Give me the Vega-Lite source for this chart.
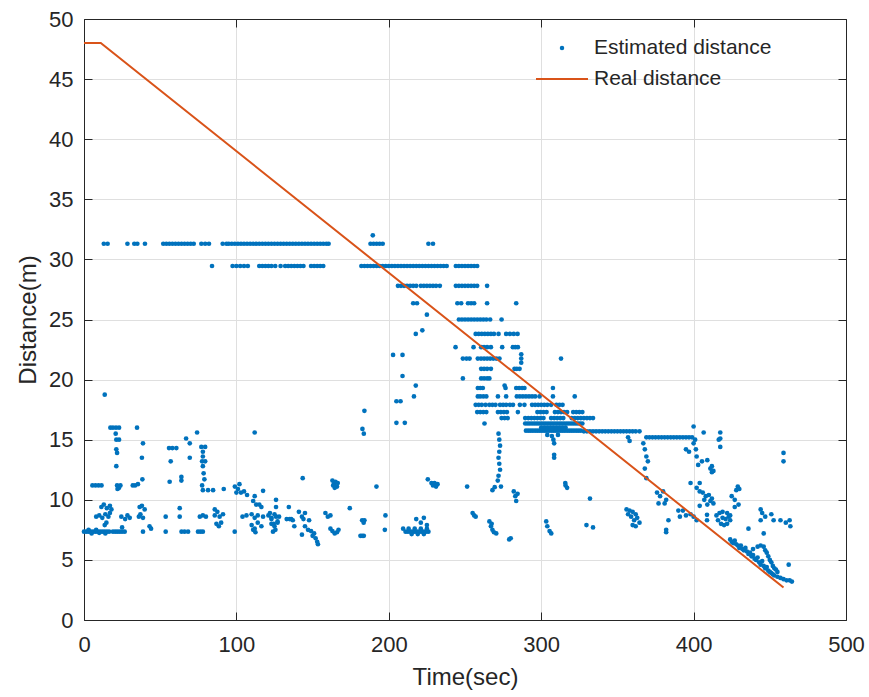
{
"$schema":"https://vega.github.io/schema/vega-lite/v6.json",
"width":762,"height":601,
"autosize":{"type":"none"},
"padding":{"left":84,"top":19,"right":23,"bottom":77},
"background":"white",
"config":{
 "view":{"stroke":null},
 "font":"Liberation Sans",
 "axis":{"domainColor":"#262626","domainWidth":1,"tickColor":"#262626","tickSize":-8,"tickWidth":1,"gridColor":"#dfdfdf","gridWidth":1,"labelColor":"#262626","labelFont":"Liberation Sans","labelFontSize":22,"titleColor":"#262626","titleFont":"Liberation Sans","titleFontSize":24,"titleFontWeight":"normal","labelFlush":false,"labelOverlap":false}
},
"datasets":{
"real":[{"t":0,"d":48},{"t":11,"d":48},{"t":459,"d":2.7}],
"est":[
{"t":13,"d":31.3},{"t":15.5,"d":31.3},{"t":28.5,"d":31.3},{"t":33,"d":31.3},{"t":35,"d":31.3},{"t":40,"d":31.3},{"t":52,"d":31.3},{"t":54,"d":31.3},{"t":56,"d":31.3},{"t":58,"d":31.3},{"t":60,"d":31.3},{"t":62,"d":31.3},{"t":64,"d":31.3},{"t":66,"d":31.3},{"t":68,"d":31.3},{"t":70,"d":31.3},{"t":72,"d":31.3},{"t":77,"d":31.3},{"t":79.5,"d":31.3},{"t":82,"d":31.3},{"t":91,"d":31.3},{"t":93.5,"d":31.3},{"t":95,"d":31.3},{"t":97,"d":31.3},{"t":99,"d":31.3},{"t":101,"d":31.3},{"t":103,"d":31.3},{"t":105,"d":31.3},{"t":107,"d":31.3},{"t":109,"d":31.3},{"t":111,"d":31.3},{"t":113,"d":31.3},{"t":115,"d":31.3},{"t":117,"d":31.3},{"t":119,"d":31.3},{"t":121,"d":31.3},{"t":123,"d":31.3},{"t":125,"d":31.3},{"t":127,"d":31.3},{"t":129,"d":31.3},{"t":131,"d":31.3},{"t":133,"d":31.3},{"t":135,"d":31.3},{"t":137,"d":31.3},{"t":139,"d":31.3},{"t":141,"d":31.3},{"t":143,"d":31.3},{"t":145,"d":31.3},{"t":147,"d":31.3},{"t":149,"d":31.3},{"t":151,"d":31.3},{"t":153,"d":31.3},{"t":155,"d":31.3},{"t":157,"d":31.3},{"t":159,"d":31.3},{"t":160.5,"d":31.3},{"t":188,"d":31.3},{"t":190,"d":31.3},{"t":192,"d":31.3},{"t":194,"d":31.3},{"t":196,"d":31.3},{"t":226,"d":31.3},{"t":229,"d":31.3},{"t":189.5,"d":32.0},
{"t":84,"d":29.45},{"t":97.5,"d":29.45},{"t":100,"d":29.45},{"t":102.5,"d":29.45},{"t":105,"d":29.45},{"t":107.5,"d":29.45},{"t":115,"d":29.45},{"t":117,"d":29.45},{"t":119,"d":29.45},{"t":121,"d":29.45},{"t":123,"d":29.45},{"t":125.5,"d":29.45},{"t":129,"d":29.45},{"t":132,"d":29.45},{"t":134,"d":29.45},{"t":136,"d":29.45},{"t":138,"d":29.45},{"t":140,"d":29.45},{"t":142,"d":29.45},{"t":144,"d":29.45},{"t":149,"d":29.45},{"t":151,"d":29.45},{"t":153,"d":29.45},{"t":155,"d":29.45},{"t":157,"d":29.45},{"t":182,"d":29.45},{"t":184,"d":29.45},{"t":186,"d":29.45},{"t":188,"d":29.45},{"t":190,"d":29.45},{"t":192,"d":29.45},{"t":194,"d":29.45},{"t":196,"d":29.45},{"t":198,"d":29.45},{"t":200,"d":29.45},{"t":202,"d":29.45},{"t":204,"d":29.45},{"t":206,"d":29.45},{"t":208,"d":29.45},{"t":210,"d":29.45},{"t":212,"d":29.45},{"t":214,"d":29.45},{"t":216,"d":29.45},{"t":218,"d":29.45},{"t":220,"d":29.45},{"t":222,"d":29.45},{"t":224,"d":29.45},{"t":226,"d":29.45},{"t":228,"d":29.45},{"t":230,"d":29.45},{"t":232,"d":29.45},{"t":234,"d":29.45},{"t":236,"d":29.45},{"t":238,"d":29.45},{"t":244,"d":29.45},{"t":246,"d":29.45},{"t":248,"d":29.45},{"t":250,"d":29.45},{"t":252,"d":29.45},{"t":254,"d":29.45},{"t":256,"d":29.45},{"t":258,"d":29.45},
{"t":206,"d":27.8},{"t":208,"d":27.8},{"t":210,"d":27.8},{"t":212,"d":27.8},{"t":214,"d":27.8},{"t":216,"d":27.8},{"t":218,"d":27.8},{"t":221,"d":27.8},{"t":223,"d":27.8},{"t":225,"d":27.8},{"t":227,"d":27.8},{"t":229,"d":27.8},{"t":231,"d":27.8},{"t":233.5,"d":27.8},{"t":244,"d":27.8},{"t":246,"d":27.8},{"t":248,"d":27.8},{"t":250,"d":27.8},{"t":252,"d":27.8},{"t":254,"d":27.8},{"t":256,"d":27.8},{"t":258,"d":27.8},{"t":264.5,"d":27.8},
{"t":216,"d":26.35},{"t":218.5,"d":26.35},{"t":245,"d":26.35},{"t":247.5,"d":26.35},{"t":252,"d":26.35},{"t":254,"d":26.35},{"t":256,"d":26.35},{"t":264.5,"d":26.35},{"t":283.6,"d":26.35},{"t":225,"d":25.4},
{"t":246,"d":25.0},{"t":248,"d":25.0},{"t":250,"d":25.0},{"t":252,"d":25.0},{"t":254,"d":25.0},{"t":256,"d":25.0},{"t":258,"d":25.0},{"t":260,"d":25.0},{"t":262,"d":25.0},{"t":264,"d":25.0},{"t":266.5,"d":25.0},{"t":274,"d":25.0},
{"t":217.7,"d":23.8},{"t":222,"d":24.1},
{"t":257,"d":23.8},{"t":259,"d":23.8},{"t":261,"d":23.8},{"t":263,"d":23.8},{"t":265,"d":23.8},{"t":267,"d":23.8},{"t":269,"d":23.8},{"t":272,"d":23.8},{"t":277,"d":23.8},{"t":279.5,"d":23.8},{"t":282,"d":23.8},{"t":284.5,"d":23.8},
{"t":243.8,"d":22.7},{"t":255.6,"d":22.7},{"t":260.6,"d":22.7},{"t":262.5,"d":22.7},{"t":264.5,"d":22.7},{"t":267,"d":22.7},{"t":274.4,"d":22.7},{"t":281.4,"d":22.7},{"t":283,"d":22.7},{"t":284.7,"d":22.7},
{"t":202.8,"d":22.05},{"t":209,"d":22.05},
{"t":248.6,"d":21.75},{"t":251,"d":21.75},{"t":253,"d":21.75},{"t":258.4,"d":21.75},{"t":260.5,"d":21.75},{"t":262.5,"d":21.75},{"t":264.5,"d":21.75},{"t":266.5,"d":21.75},{"t":268.5,"d":21.75},{"t":270.5,"d":21.75},{"t":272.6,"d":21.75},{"t":286.9,"d":21.75},{"t":313,"d":21.75},{"t":286.9,"d":22.1},{"t":286.9,"d":21.4},
{"t":260.6,"d":20.9},{"t":262.5,"d":20.9},{"t":264.5,"d":20.9},{"t":267,"d":20.9},{"t":282.5,"d":20.9},{"t":284,"d":20.9},{"t":285.8,"d":20.9},
{"t":209,"d":20.3},
{"t":248.6,"d":20.1},{"t":260.6,"d":20.1},{"t":262.5,"d":20.1},{"t":264.5,"d":20.1},{"t":266,"d":20.1},
{"t":217.7,"d":19.5},{"t":276,"d":19.5},
{"t":258.4,"d":19.3},{"t":260,"d":19.3},{"t":261.7,"d":19.3},{"t":276.6,"d":19.3},{"t":283.6,"d":19.3},{"t":285.5,"d":19.3},{"t":287.5,"d":19.3},{"t":289,"d":19.3},{"t":307.7,"d":19.3},
{"t":216.5,"d":18.6},{"t":258.4,"d":18.6},{"t":260,"d":18.6},{"t":262,"d":18.6},{"t":264,"d":18.6},{"t":271.6,"d":18.6},{"t":277,"d":18.6},{"t":284,"d":18.6},{"t":286,"d":18.6},{"t":288,"d":18.6},{"t":290,"d":18.6},{"t":292,"d":18.6},{"t":294,"d":18.6},{"t":296,"d":18.6},{"t":298.9,"d":18.6},{"t":307.7,"d":18.6},{"t":322,"d":18.6},
{"t":205,"d":18.2},{"t":207.7,"d":18.2},
{"t":257,"d":17.9},{"t":259,"d":17.9},{"t":261,"d":17.9},{"t":263.5,"d":17.9},{"t":266,"d":17.9},{"t":268,"d":17.9},{"t":270,"d":17.9},{"t":273,"d":17.9},{"t":275,"d":17.9},{"t":277,"d":17.9},{"t":279.5,"d":17.9},{"t":281.5,"d":17.9},{"t":286,"d":17.9},{"t":289,"d":17.9},{"t":294,"d":17.9},{"t":296,"d":17.9},{"t":298,"d":17.9},{"t":300,"d":17.9},{"t":302,"d":17.9},{"t":304,"d":17.9},{"t":306.5,"d":17.9},{"t":310,"d":17.9},{"t":312,"d":17.9},{"t":314,"d":17.9},
{"t":184,"d":17.4},
{"t":258,"d":17.3},{"t":260,"d":17.3},{"t":262,"d":17.3},{"t":264,"d":17.3},{"t":271.6,"d":17.3},{"t":273.5,"d":17.3},{"t":275.5,"d":17.3},{"t":277.5,"d":17.3},{"t":284.7,"d":17.3},{"t":297.5,"d":17.3},{"t":299.5,"d":17.3},{"t":301.5,"d":17.3},{"t":303.5,"d":17.3},{"t":309,"d":17.3},{"t":311,"d":17.3},{"t":313,"d":17.3},{"t":315,"d":17.3},{"t":317,"d":17.3},{"t":321,"d":17.3},{"t":323,"d":17.3},{"t":325,"d":17.3},{"t":327,"d":17.3},
{"t":274,"d":16.8},{"t":276,"d":16.8},{"t":278,"d":16.8},{"t":289.5,"d":16.8},{"t":291.5,"d":16.8},{"t":293.5,"d":16.8},{"t":295.5,"d":16.8},{"t":297.5,"d":16.8},{"t":299.5,"d":16.8},{"t":301.5,"d":16.8},{"t":306.5,"d":16.8},{"t":308.5,"d":16.8},{"t":310.5,"d":16.8},{"t":312.5,"d":16.8},{"t":314.5,"d":16.8},{"t":320,"d":16.8},{"t":322,"d":16.8},{"t":324,"d":16.8},{"t":326,"d":16.8},{"t":328,"d":16.8},{"t":330,"d":16.8},{"t":332,"d":16.8},{"t":334,"d":16.8},
{"t":262.8,"d":16.35},{"t":289.5,"d":16.35},{"t":291,"d":16.35},{"t":292.5,"d":16.35},{"t":294,"d":16.35},{"t":295.5,"d":16.35},{"t":297,"d":16.35},{"t":298.5,"d":16.35},{"t":300,"d":16.35},{"t":301.5,"d":16.35},{"t":303,"d":16.35},{"t":304.5,"d":16.35},{"t":306,"d":16.35},{"t":307.5,"d":16.35},{"t":309,"d":16.35},{"t":310.5,"d":16.35},{"t":312,"d":16.35},{"t":313.5,"d":16.35},{"t":315,"d":16.35},{"t":316.5,"d":16.35},{"t":318,"d":16.35},{"t":319.5,"d":16.35},{"t":321,"d":16.35},{"t":322.5,"d":16.35},{"t":324,"d":16.35},{"t":325.5,"d":16.35},{"t":327,"d":16.35},
{"t":205,"d":16.4},{"t":210.5,"d":16.4},
{"t":290,"d":15.75},{"t":291.5,"d":15.75},{"t":293,"d":15.75},{"t":294.5,"d":15.75},{"t":296,"d":15.75},{"t":297.5,"d":15.75},{"t":299,"d":15.75},{"t":300.5,"d":15.75},{"t":302,"d":15.75},{"t":303.5,"d":15.75},{"t":305,"d":15.75},{"t":306.5,"d":15.75},{"t":308,"d":15.75},{"t":309.5,"d":15.75},{"t":311,"d":15.75},{"t":312.5,"d":15.75},{"t":314,"d":15.75},{"t":315.5,"d":15.75},{"t":317,"d":15.75},{"t":318.5,"d":15.75},{"t":320,"d":15.75},{"t":321.5,"d":15.75},{"t":323,"d":15.75},{"t":324.5,"d":15.75},{"t":326,"d":15.75},{"t":328,"d":15.7},{"t":330,"d":15.7},{"t":332,"d":15.7},{"t":334,"d":15.7},{"t":336,"d":15.7},{"t":338,"d":15.7},{"t":340,"d":15.7},{"t":342,"d":15.7},{"t":344,"d":15.7},{"t":346,"d":15.7},{"t":348,"d":15.7},{"t":350,"d":15.7},{"t":352,"d":15.7},{"t":354,"d":15.7},{"t":356,"d":15.7},{"t":358,"d":15.7},{"t":360,"d":15.7},{"t":362,"d":15.7},{"t":364.5,"d":15.7},
{"t":300,"d":16.0},{"t":302,"d":16.0},{"t":304,"d":16.0},{"t":306,"d":16.0},{"t":308,"d":16.0},{"t":310,"d":16.0},{"t":312,"d":16.0},{"t":314,"d":16.0},{"t":316,"d":16.0},
{"t":304,"d":15.4},{"t":307,"d":15.3},{"t":311,"d":15.4},{"t":308,"d":15.0},{"t":308.5,"d":14.7},{"t":308.5,"d":13.75},{"t":308.5,"d":13.5},
{"t":369,"d":15.2},{"t":371,"d":15.2},{"t":373,"d":15.2},{"t":375,"d":15.2},{"t":377,"d":15.2},{"t":379,"d":15.2},{"t":381,"d":15.2},{"t":383,"d":15.2},{"t":385,"d":15.2},{"t":387,"d":15.2},{"t":389,"d":15.2},{"t":391,"d":15.2},{"t":393,"d":15.2},{"t":395,"d":15.2},{"t":397,"d":15.2},{"t":399,"d":15.2},
{"t":357,"d":15.2},{"t":358,"d":14.9},{"t":400,"d":16.1},{"t":406.6,"d":15.6},{"t":417.5,"d":15.6},{"t":417.5,"d":15.1},{"t":417.5,"d":14.4},{"t":401,"d":15.0},{"t":400,"d":14.7},{"t":401.5,"d":14.2},{"t":402,"d":13.6},{"t":403,"d":12.9},{"t":405.5,"d":13.2},{"t":412,"d":12.8},{"t":412,"d":12.3},{"t":416.5,"d":15.0},{"t":395,"d":14.2},{"t":397,"d":14.0},{"t":409,"d":13.3},{"t":411,"d":12.6},{"t":413,"d":12.4},
{"t":367,"d":14.7},{"t":368,"d":14.2},{"t":369,"d":13.6},{"t":370,"d":13.2},{"t":368,"d":12.6},{"t":369,"d":11.8},
{"t":459,"d":13.9},{"t":459,"d":13.2},
{"t":182.7,"d":15.9},{"t":183.6,"d":15.5},{"t":112,"d":15.6},
{"t":272,"d":15.5},{"t":272.5,"d":15.0},{"t":273,"d":14.5},{"t":272.5,"d":14.0},{"t":272,"d":13.5},{"t":272.5,"d":13.0},{"t":273,"d":12.5},{"t":272,"d":12.0},{"t":271.5,"d":11.6},
{"t":268,"d":10.8},{"t":269.5,"d":11.05},{"t":273.6,"d":11.1},
{"t":282,"d":10.7},{"t":283,"d":10.3},{"t":283.6,"d":9.9},{"t":284.5,"d":10.5},
{"t":13.6,"d":18.75},
{"t":17.3,"d":16.0},{"t":19,"d":16.0},{"t":21,"d":16.0},{"t":23,"d":16.0},{"t":34.8,"d":16.0},
{"t":20.8,"d":15.5},{"t":21.2,"d":15.0},{"t":23,"d":15.0},{"t":38.7,"d":14.7},{"t":21.2,"d":14.2},{"t":21.7,"d":13.9},{"t":38,"d":13.5},{"t":21.2,"d":12.8},{"t":38.3,"d":11.7},
{"t":5.5,"d":11.2},{"t":7.5,"d":11.2},{"t":9.5,"d":11.2},{"t":11.5,"d":11.2},
{"t":21.7,"d":11.2},{"t":23.9,"d":11.2},{"t":22,"d":10.9},{"t":23,"d":11.0},
{"t":32,"d":11.2},{"t":33.5,"d":11.2},{"t":35.4,"d":11.3},{"t":56.2,"d":11.5},
{"t":55.8,"d":14.3},{"t":58,"d":14.3},{"t":60.6,"d":14.3},{"t":56.9,"d":13.2},{"t":63.9,"d":11.9},{"t":63.9,"d":11.6},
{"t":67,"d":15.1},{"t":69.4,"d":14.7},{"t":69.4,"d":13.5},{"t":74.2,"d":15.6},
{"t":77,"d":14.4},{"t":78,"d":14.0},{"t":78,"d":13.6},{"t":77.5,"d":13.2},{"t":78,"d":12.8},{"t":78.5,"d":12.2},{"t":79,"d":11.7},{"t":77.5,"d":11.2},{"t":78,"d":10.8},{"t":79.5,"d":14.4},{"t":79.5,"d":13.2},
{"t":81.4,"d":10.8},{"t":84.7,"d":10.8},{"t":91.7,"d":10.9},
{"t":99,"d":11.1},{"t":100,"d":10.6},{"t":101,"d":10.9},{"t":102,"d":11.3},{"t":103,"d":10.6},{"t":105,"d":10.7},{"t":107,"d":10.4},
{"t":112,"d":10.3},{"t":113,"d":9.6},{"t":115,"d":9.6},{"t":111,"d":9.9},{"t":117.5,"d":10.75},{"t":126,"d":10.0},{"t":126,"d":9.4},
{"t":11.4,"d":9.4},{"t":13,"d":9.6},{"t":15,"d":9.3},{"t":17,"d":9.5},{"t":18,"d":9.2},{"t":36.5,"d":9.4},{"t":38,"d":9.5},{"t":39.8,"d":9.2},
{"t":8,"d":8.6},{"t":10,"d":8.7},{"t":12,"d":8.5},{"t":14,"d":8.8},{"t":16,"d":8.6},{"t":17,"d":8.9},{"t":24.5,"d":8.6},{"t":27,"d":8.4},{"t":28.5,"d":8.7},{"t":30,"d":8.5},{"t":36,"d":8.6},{"t":37,"d":8.8},{"t":38.7,"d":8.5},{"t":53.6,"d":8.6},{"t":62.8,"d":8.6},{"t":76,"d":8.6},{"t":78,"d":8.7},{"t":80,"d":8.6},{"t":85.8,"d":8.7},{"t":87.5,"d":9.0},{"t":89,"d":8.6},{"t":91.2,"d":8.8},{"t":104,"d":8.6},{"t":106.6,"d":8.7},{"t":110,"d":8.8},{"t":112,"d":8.5},{"t":114,"d":8.7},{"t":117.5,"d":8.6},{"t":121,"d":8.7},{"t":123,"d":8.5},{"t":125,"d":8.8},{"t":128,"d":8.6},
{"t":62.8,"d":9.3},{"t":85.8,"d":9.2},{"t":116.4,"d":9.4},
{"t":13.6,"d":7.9},{"t":14.7,"d":8.1},{"t":25,"d":7.7},{"t":86.9,"d":8.0},{"t":88.5,"d":7.8},{"t":90,"d":8.1},{"t":110,"d":7.9},{"t":112,"d":7.6},{"t":114,"d":8.1},{"t":116.4,"d":7.8},{"t":123,"d":8.0},{"t":125,"d":7.8},{"t":127,"d":8.1},
{"t":0,"d":7.35},{"t":1.5,"d":7.35},{"t":3,"d":7.35},{"t":4.5,"d":7.35},{"t":6,"d":7.35},{"t":7.5,"d":7.35},{"t":9,"d":7.35},{"t":10.5,"d":7.35},{"t":12,"d":7.35},{"t":13.5,"d":7.35},{"t":15,"d":7.35},{"t":16.5,"d":7.35},{"t":19,"d":7.35},{"t":20.5,"d":7.35},{"t":22,"d":7.35},{"t":23.5,"d":7.35},{"t":25,"d":7.35},{"t":26.7,"d":7.35},{"t":38.7,"d":7.35},{"t":53.6,"d":7.35},{"t":64,"d":7.35},{"t":66,"d":7.35},{"t":68.3,"d":7.35},{"t":74.8,"d":7.35},{"t":76.5,"d":7.35},{"t":78,"d":7.35},{"t":98.9,"d":7.35},{"t":112.5,"d":7.3},{"t":124,"d":7.35},
{"t":43,"d":7.8},{"t":44,"d":7.6},{"t":111,"d":7.5},{"t":5,"d":7.2},{"t":10,"d":7.25},{"t":14,"d":7.2},{"t":8,"d":7.5},{"t":3,"d":7.5},
{"t":143.5,"d":11.8},
{"t":163,"d":11.6},{"t":164,"d":11.3},{"t":165,"d":11.5},{"t":166,"d":11.1},{"t":164.5,"d":11.0},{"t":163.5,"d":11.2},{"t":166.5,"d":11.4},
{"t":191.9,"d":11.1},
{"t":225.6,"d":11.7},{"t":228,"d":11.4},{"t":229,"d":11.2},{"t":230,"d":11.4},{"t":231,"d":11.1},{"t":232,"d":11.3},{"t":251.4,"d":11.1},
{"t":134.4,"d":9.4},{"t":122,"d":8.9},{"t":123,"d":8.4},{"t":124.5,"d":8.0},{"t":126,"d":8.6},{"t":127,"d":8.2},
{"t":133,"d":8.4},{"t":135,"d":8.4},{"t":136,"d":8.4},
{"t":141,"d":9.0},{"t":143,"d":8.6},{"t":145,"d":8.9},{"t":147.7,"d":8.3},{"t":144,"d":8.4},
{"t":158.4,"d":8.9},{"t":160,"d":8.6},{"t":161.7,"d":8.7},{"t":174.4,"d":9.3},
{"t":182.5,"d":8.3},{"t":183.5,"d":8.1},{"t":184,"d":8.3},{"t":197.8,"d":8.7},{"t":197.4,"d":7.5},
{"t":161.7,"d":7.6},{"t":163,"d":7.4},{"t":164.5,"d":7.2},{"t":166,"d":7.3},{"t":167,"d":7.5},
{"t":145,"d":7.8},{"t":147,"d":7.5},{"t":149,"d":7.4},{"t":151,"d":7.2},{"t":152,"d":6.8},{"t":153,"d":6.5},{"t":153.5,"d":6.3},{"t":150,"d":7.0},{"t":143,"d":7.1},
{"t":181.4,"d":7.0},{"t":182.5,"d":7.0},{"t":183.6,"d":7.0},{"t":125.6,"d":7.5},{"t":137,"d":8.3},{"t":138,"d":7.8},
{"t":211,"d":7.35},{"t":212.5,"d":7.35},{"t":214,"d":7.35},{"t":215.5,"d":7.35},{"t":217,"d":7.35},{"t":218.5,"d":7.35},{"t":220,"d":7.35},{"t":221.5,"d":7.35},{"t":223,"d":7.35},{"t":224.5,"d":7.35},{"t":226,"d":7.35},
{"t":213,"d":7.6},{"t":217,"d":7.6},{"t":221,"d":7.6},{"t":225,"d":7.6},{"t":215,"d":7.15},{"t":219,"d":7.15},{"t":223,"d":7.15},
{"t":218,"d":8.4},{"t":221,"d":8.1},{"t":223,"d":8.5},{"t":225,"d":7.9},{"t":209.4,"d":7.6},
{"t":255,"d":8.9},{"t":256,"d":8.7},{"t":257,"d":8.6},
{"t":266,"d":8.2},{"t":267,"d":7.8},{"t":268,"d":7.5},{"t":269,"d":7.3},{"t":270.5,"d":7.2},{"t":267.5,"d":8.0},
{"t":279,"d":6.7},{"t":280,"d":6.8},
{"t":303.3,"d":8.2},{"t":304,"d":7.8},{"t":305.5,"d":7.4},{"t":306.6,"d":7.2},
{"t":315.8,"d":11.4},{"t":317,"d":11.0},{"t":316,"d":11.2},{"t":332,"d":10.1},{"t":329.7,"d":7.9},{"t":334,"d":7.7},
{"t":356,"d":9.2},{"t":358,"d":9.1},{"t":360,"d":9.0},{"t":362,"d":8.8},{"t":363,"d":8.5},{"t":361,"d":8.3},{"t":359,"d":8.6},{"t":357,"d":8.8},{"t":364.5,"d":8.1},{"t":362,"d":7.8},{"t":360,"d":7.9},
{"t":376,"d":10.6},{"t":378,"d":10.3},{"t":380,"d":10.7},{"t":382,"d":10.0},{"t":381,"d":9.7},{"t":377,"d":9.7},
{"t":382,"d":7.5},{"t":382,"d":7.3},{"t":383.5,"d":8.3},
{"t":390,"d":9.1},{"t":393,"d":9.1},{"t":395,"d":8.7},{"t":398,"d":8.8},{"t":391,"d":8.6},{"t":400,"d":8.6},{"t":402,"d":8.3},
{"t":398,"d":11.4},{"t":404,"d":11.4},{"t":402,"d":11.0},{"t":404,"d":10.7},{"t":406,"d":10.6},{"t":408,"d":10.3},{"t":407,"d":10.0},{"t":410,"d":10.4},{"t":412,"d":10.1},{"t":413,"d":9.7},{"t":409,"d":9.6},{"t":404,"d":9.5},{"t":411,"d":9.9},
{"t":408.8,"d":8.75},{"t":408.8,"d":8.3},
{"t":415,"d":8.7},{"t":416,"d":8.3},{"t":418,"d":8.0},{"t":420,"d":7.9},{"t":422,"d":8.0},{"t":424,"d":8.3},{"t":424,"d":8.7},{"t":422,"d":8.9},{"t":419,"d":9.0},{"t":417,"d":8.9},{"t":419,"d":8.5},{"t":421,"d":8.4},
{"t":425,"d":10.3},{"t":427,"d":10.0},{"t":429.5,"d":9.6},{"t":427,"d":9.4},{"t":428,"d":10.8},{"t":430,"d":10.9},{"t":429,"d":11.1},{"t":423,"d":8.6},
{"t":436,"d":7.6},{"t":444,"d":9.2},{"t":445,"d":8.9},{"t":447,"d":8.6},{"t":451,"d":8.8},{"t":452.5,"d":8.3},{"t":444,"d":8.3},{"t":446,"d":7.2},
{"t":457,"d":8.3},{"t":463,"d":8.3},{"t":463.5,"d":7.8},{"t":460.5,"d":8.1},
{"t":424,"d":6.7},{"t":425,"d":6.5},{"t":426,"d":6.4},{"t":427,"d":6.6},{"t":428,"d":6.3},{"t":429,"d":6.2},{"t":430,"d":6.0},{"t":431,"d":6.2},{"t":432,"d":5.9},{"t":433,"d":5.8},{"t":434,"d":6.0},{"t":435,"d":5.7},{"t":436,"d":5.5},{"t":437,"d":5.6},{"t":438,"d":5.3},{"t":439,"d":5.4},{"t":440,"d":5.1},{"t":441,"d":5.0},{"t":442,"d":5.2},{"t":443,"d":4.8},{"t":444,"d":4.6},{"t":445,"d":4.9},{"t":446,"d":4.5},{"t":447,"d":4.3},{"t":448,"d":4.4},{"t":449,"d":4.1},{"t":450,"d":4.0},{"t":451,"d":3.9},{"t":452,"d":3.8},{"t":453,"d":3.7},{"t":455,"d":3.6},{"t":457,"d":3.5},{"t":459,"d":3.4},{"t":461,"d":3.3},{"t":463,"d":3.3},{"t":464.5,"d":3.2},
{"t":439,"d":5.9},{"t":442,"d":6.1},{"t":444,"d":6.2},{"t":446,"d":6.1},{"t":447,"d":5.8},{"t":448,"d":5.6},{"t":449,"d":5.3},{"t":450,"d":5.0},{"t":451,"d":4.8},{"t":452,"d":4.5},{"t":453,"d":4.3},{"t":454,"d":4.2},{"t":455,"d":4.0},{"t":462.4,"d":4.6}
]},
"resolve":{"axis":{"x":"independent","y":"independent"}},
"layer":[
{"data":{"name":"est"},
 "mark":{"type":"point","filled":true,"size":22,"opacity":1},
 "encoding":{
  "x":{"field":"t","type":"quantitative","scale":{"domain":[0,500],"nice":false},"axis":{"orient":"bottom","values":[0,100,200,300,400,500],"title":"Time(sec)","labelPadding":22,"titlePadding":10,"grid":true}},
  "y":{"field":"d","type":"quantitative","scale":{"domain":[0,50],"nice":false},"axis":{"orient":"left","values":[0,5,10,15,20,25,30,35,40,45,50],"title":"Distance(m)","labelPadding":19,"titlePadding":8,"grid":true}},
  "fill":{"datum":"Estimated distance","type":"nominal",
   "scale":{"domain":["Estimated distance"],"range":["#0072BD"]},
   "legend":{"title":null,"orient":"none","legendX":467.5,"legendY":13.5,"padding":0,"labelFontSize":21,"labelColor":"#262626","labelFont":"Liberation Sans","labelOffset":21.5,"clipHeight":31,"symbolSize":20,"symbolType":"circle","symbolStrokeWidth":0,"labelLimit":400}
  }
 }},
{"data":{"name":"real"},
 "mark":{"type":"line","strokeWidth":2},
 "encoding":{
  "x":{"field":"t","type":"quantitative","axis":{"orient":"top","values":[0,100,200,300,400,500],"labels":false,"title":null,"grid":false}},
  "y":{"field":"d","type":"quantitative","axis":{"orient":"right","values":[0,5,10,15,20,25,30,35,40,45,50],"labels":false,"title":null,"grid":false}},
  "stroke":{"datum":"Real distance","type":"nominal",
   "scale":{"domain":["Real distance"],"range":["#D95319"]},
   "legend":{"title":null,"orient":"none","legendX":451,"legendY":44.5,"padding":0,"labelFontSize":21,"labelColor":"#262626","labelFont":"Liberation Sans","labelOffset":5,"clipHeight":31,"symbolSize":2704,"symbolType":"stroke","symbolStrokeWidth":2,"labelLimit":400}
  }
 }}
]
}
